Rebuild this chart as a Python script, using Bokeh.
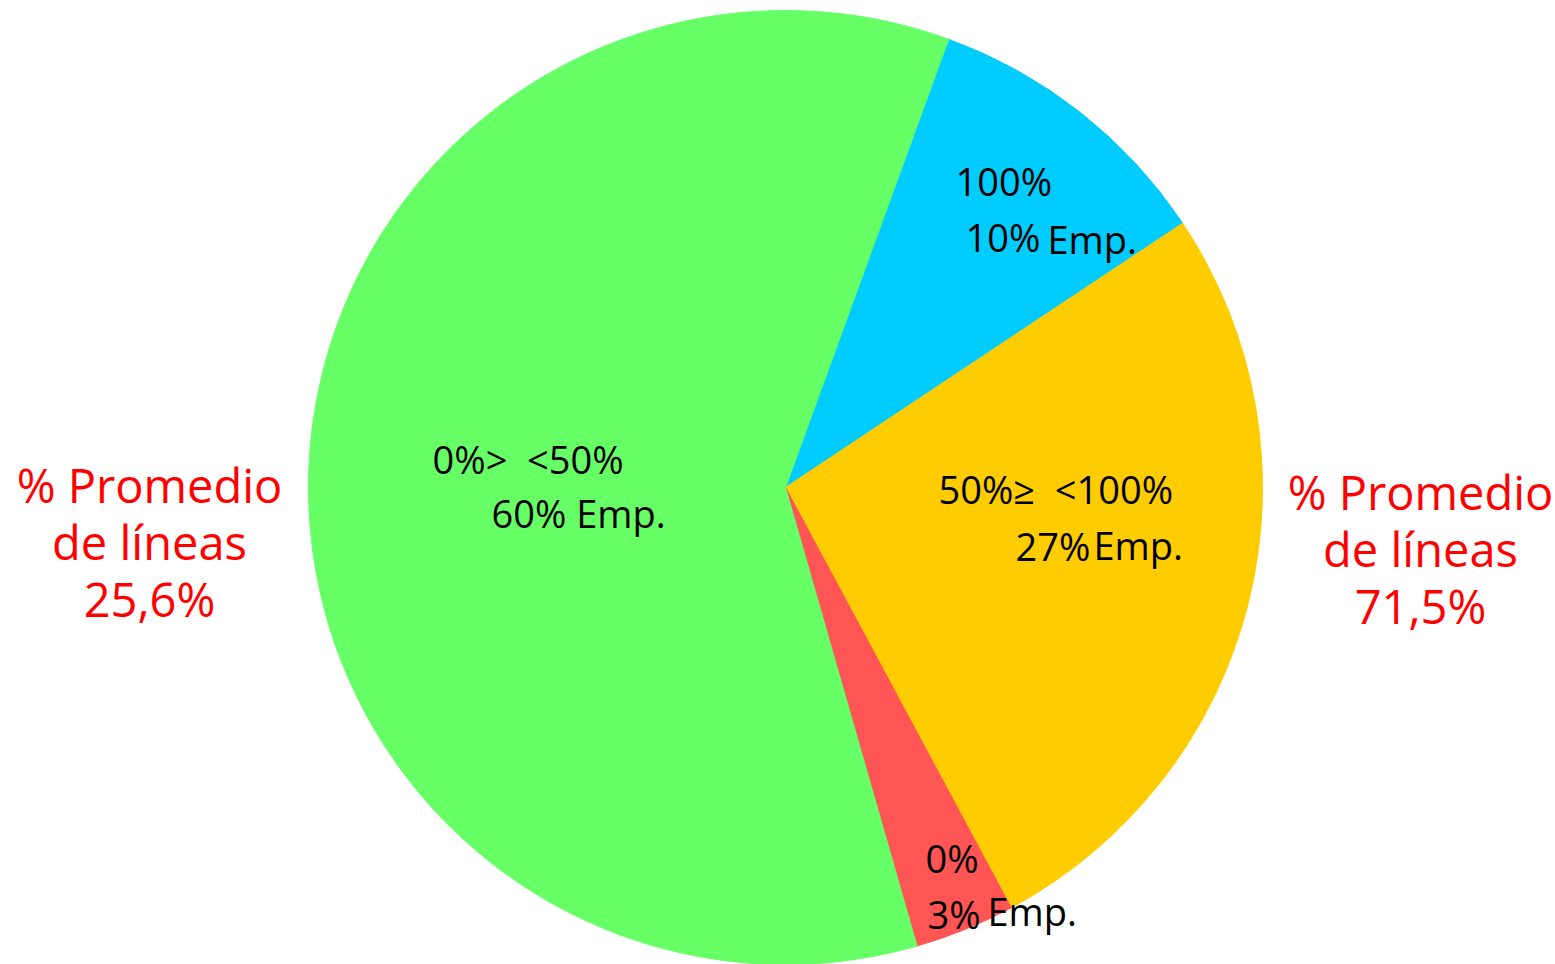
import math
from bokeh.plotting import figure
from bokeh.models import Range1d, ColumnDataSource
from bokeh.core.properties import value
from bokeh.embed import file_html
from bokeh.resources import INLINE

# ---- data ----
categories = ["100%", "50%\u2265\u00a0 <100%", "0%", "0%>\u00a0 <50%"]
shares = [10.1, 26.5, 3.4, 60.0]          # slice sizes (% of companies), clockwise
share_labels = ["10%", "27%", "3%", "60%"]
colors = ["#00CCFF", "#FFCC00", "#FF5555", "#66FF66"]
side_titles = ["% Promedio", "de l\u00edneas"]
side_values = ["25,6%", "71,5%"]

W, H = 1555, 964
def sy(y):  # screen y -> data y
    return H - y

p = figure(width=W, height=H, x_range=Range1d(0, W), y_range=Range1d(0, H),
           output_backend="svg", toolbar_location=None, min_border=0)
p.axis.visible = False
p.grid.visible = False
p.outline_line_color = None
p.background_fill_color = "white"

cx, cy, r = 785, sy(487), 477
start = math.radians(70)
starts, ends = [], []
a = start
for s in shares:
    span = 2 * math.pi * s / 100
    ends.append(a)
    starts.append(a - span)
    a -= span
src = ColumnDataSource(dict(start=starts, end=ends, color=colors))
p.wedge(x=cx, y=cy, radius=r, start_angle="start", end_angle="end",
        fill_color="color", line_color="color", line_width=1, source=src)

font = value("Open Sans")
B = 15  # baseline correction for 38px text
# category labels (inside slices)
cat_pos = [(955, 195), (938, 503), (925, 872), (432, 473)]
share_pos = [(965, 251), (1015, 560), (927, 928), (491, 527)]
emp_pos = [(1047, 253), (1093, 559), (987, 925), None]
def black(x, y, t):
    p.text(x=[x], y=[sy(y - B)], text=[t], text_font=font, text_font_size="38px",
           text_color="black", text_baseline="alphabetic", text_align="left")
for i, c in enumerate(categories):
    black(*cat_pos[i], c)
    if emp_pos[i] is None:
        black(*share_pos[i], share_labels[i] + " Emp.")
    else:
        black(*share_pos[i], share_labels[i])
        black(*emp_pos[i], "Emp.")

# side red labels
side_x = [149, 1420]
side_base = [503, 510]
for j in range(2):
    lines = side_titles + [side_values[j]]
    for k, t in enumerate(lines):
        p.text(x=[side_x[j]], y=[sy(side_base[j] + 57 * k - 19)], text=[t], text_font=font,
               text_font_size="47px", text_color="#FF0000",
               text_baseline="alphabetic", text_align="center")

open("out.html", "w").write(file_html(p, INLINE))
